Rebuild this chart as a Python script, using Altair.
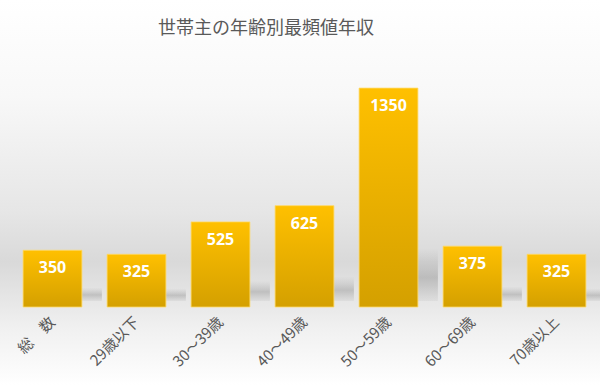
import altair as alt
import pandas as pd

title_text = "世帯主の年齢別最頻値年収"
categories = ["総　数", "29歳以下", "30～39歳", "40～49歳", "50～59歳", "60～69歳", "70歳以上"]
values = [350, 325, 525, 625, 1350, 375, 325]

df = pd.DataFrame({"cat": categories, "val": values})

W, H = 588, 227
PL, PT, PR, PB = 10.5, 80, 1.5, 78

bg = alt.Chart(pd.DataFrame({"a": [0]})).mark_rect(
    color=alt.Gradient(
        gradient="linear", x1=0, x2=0, y1=0, y2=1,
        stops=[
            alt.GradientStop(offset=0.0, color="#ffffff"),
            alt.GradientStop(offset=0.25, color="#f8f8f8"),
            alt.GradientStop(offset=0.55, color="#e6e6e6"),
            alt.GradientStop(offset=0.68, color="#d9d9d9"),
            alt.GradientStop(offset=0.85, color="#f0f0f0"),
            alt.GradientStop(offset=1.0, color="#ffffff"),
        ],
    )
).encode(
    x=alt.value(-PL), x2=alt.value(W + PR), y=alt.value(-PT), y2=alt.value(H + PB)
)

title = alt.Chart(pd.DataFrame({"t": [title_text]})).mark_text(
    font="Noto Sans CJK JP", fontSize=18, color="#595959", align="center", baseline="middle"
).encode(text="t:N", x=alt.value(266 - PL), y=alt.value(29 - PT))

xenc = alt.X(
    "cat:N", sort=categories, title=None,
    scale=alt.Scale(paddingInner=0.3, paddingOuter=0.15),
    axis=alt.Axis(
        labelAngle=-45, labelAlign="right", labelBaseline="middle",
        labelFont="Noto Sans CJK JP", labelFontSize=15, labelColor="#595959",
        labelPadding=12, domain=False, ticks=False, grid=False, zindex=2,
    ),
)
yscale = alt.Scale(domain=[0, 1400])
yenc = alt.Y("val:Q", scale=yscale, axis=None)

shadow = alt.Chart(df).transform_calculate(
    st="datum.val*0.24"
).mark_bar(
    color=alt.Gradient(
        gradient="linear", x1=0, x2=0, y1=0, y2=1,
        stops=[
            alt.GradientStop(offset=0.0, color="rgba(140,140,140,0)"),
            alt.GradientStop(offset=0.55, color="rgba(115,115,115,0.32)"),
            alt.GradientStop(offset=1.0, color="rgba(120,120,120,0.08)"),
        ],
    ),
    xOffset=20, yOffset=-6,
).encode(
    x=xenc,
    y=alt.Y("st:Q", scale=yscale, axis=None),
)

bars = alt.Chart(df).mark_bar(
    color=alt.Gradient(
        gradient="linear", x1=0, x2=0, y1=0, y2=1,
        stops=[
            alt.GradientStop(offset=0.0, color="#FFC000"),
            alt.GradientStop(offset=1.0, color="#D4A000"),
        ],
    ),
    stroke="#ffd966", strokeWidth=0.8,
).encode(x=xenc, y=yenc)

labels = alt.Chart(df).mark_text(
    font="Noto Sans", fontWeight="bold", fontSize=16, color="white",
    baseline="middle", dy=18,
).encode(x=xenc, y=yenc, text="val:Q")

chart = alt.layer(bg, shadow, bars, labels, title).properties(
    width=W, height=H,
    padding={"left": PL, "top": PT, "right": PR, "bottom": PB},
    autosize=alt.AutoSizeParams(type="none"),
    background="white",
).configure_view(stroke=None)

chart.save("out.html", embed_options={"renderer": "svg", "actions": False})
